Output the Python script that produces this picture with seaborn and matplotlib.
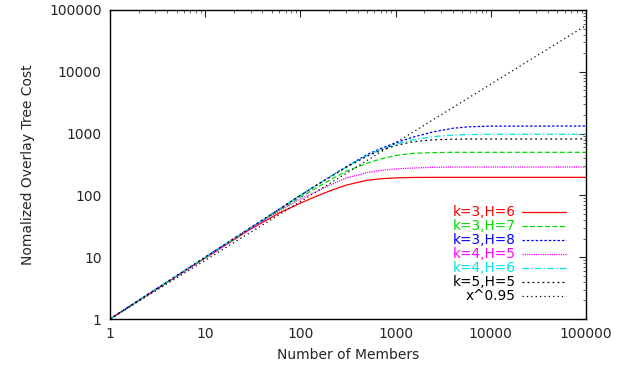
import pandas as pd
import seaborn as sns
import matplotlib.pyplot as plt
from matplotlib.ticker import LogLocator, FixedFormatter, FixedLocator

# number of members (x) shared by the tree-cost curves
members = [1, 10, 30, 60, 100, 150, 200, 300, 500, 700, 1000, 1500,
           2500, 4000, 6000, 10000, 100000]

k3_h6 = [1, 9.7, 28.5, 52, 75, 98, 117, 146, 176, 186, 192, 195,
         196, 196, 196, 196, 196]
k3_h7 = [1, 9.8, 29.5, 58, 93, 135, 174, 245, 331, 390, 442, 479,
         493, 498, 498, 498, 498]
k3_h8 = [1, 10, 30, 60, 100, 149, 196, 288, 457, 575, 708, 870,
         1070, 1220, 1290, 1320, 1327]
k4_h5 = [1, 9.7, 29, 56, 87, 117, 145, 190, 234, 254, 268, 277,
         285, 288, 288, 288, 288]
k4_h6 = [1, 10, 30, 60, 100, 149, 195, 285, 440, 555, 670, 790,
         895, 945, 965, 975, 975]
k5_h5 = [1, 10, 30, 60, 100, 148, 194, 282, 430, 535, 640, 735,
         795, 812, 817, 818, 818]

# reference power curve x^0.95, end points
ref_x = [1, 100000]
ref_y = [1, 56234]

series = [
    ("k=3,H=6", k3_h6, "#ff0000", "-"),
    ("k=3,H=7", k3_h7, "#00dd00", (0, (4, 2))),
    ("k=3,H=8", k3_h8, "#0000ff", (0, (2, 1.5))),
    ("k=4,H=5", k4_h5, "#ff00ff", (0, (1, 0.8))),
    ("k=4,H=6", k4_h6, "#00e5e5", (0, (5, 2, 1, 2))),
    ("k=5,H=5", k5_h5, "#000000", (0, (1.5, 2.5))),
]

tick_vals = [1, 10, 100, 1000, 10000, 100000]
tick_labels = ["1", "10", "100", "1000", "10000", "100000"]


def draw():
    fig = plt.figure(figsize=(6.35, 3.7), dpi=100)
    ax = fig.add_axes([0.1732, 0.1378, 0.7496, 0.8352])

    for name, vals, color, ls in series:
        df = pd.DataFrame({"members": members, "cost": vals})
        sns.lineplot(data=df, x="members", y="cost", color=color,
                     linestyle=ls, linewidth=0.9, label=name, ax=ax)
    ref = pd.DataFrame({"members": ref_x, "cost": ref_y})
    sns.lineplot(data=ref, x="members", y="cost", color="#000000",
                 linestyle=(0, (1, 2.5)), linewidth=0.9, label="x^0.95", ax=ax)

    ax.set_xscale("log")
    ax.set_yscale("log")
    ax.set_xlim(1, 100000)
    ax.set_ylim(1, 100000)
    for axis in (ax.xaxis, ax.yaxis):
        axis.set_major_locator(FixedLocator(tick_vals))
        axis.set_major_formatter(FixedFormatter(tick_labels))
        axis.set_minor_locator(LogLocator(base=10, subs=range(2, 10)))
    ax.tick_params(which="major", direction="in", length=5, width=0.8,
                   top=True, right=True, labelsize=10, pad=6)
    ax.tick_params(which="minor", direction="in", length=2.5, width=0.5,
                   top=True, right=True)
    for sp in ax.spines.values():
        sp.set_linewidth(1.0)
        sp.set_color("black")

    ax.set_xlabel("Number of Members", fontsize=10, labelpad=5)
    ax.set_ylabel("Nomalized Overlay Tree Cost", fontsize=10, labelpad=10)

    leg = ax.legend(loc="lower right", bbox_to_anchor=(0.978, 0.02),
                    frameon=False, markerfirst=False, fontsize=9.8,
                    handlelength=3.2, handletextpad=0.5, labelspacing=0.0,
                    borderpad=0.2)
    colors = [s[2] for s in series] + ["#000000"]
    for txt, c in zip(leg.get_texts(), colors):
        txt.set_color(c)

    fig.savefig("out.png", dpi=100)


if __name__ == "__main__":
    sns.set_theme(style="white")
    plt.rcParams["font.family"] = ["DejaVu Sans"]
    draw()
